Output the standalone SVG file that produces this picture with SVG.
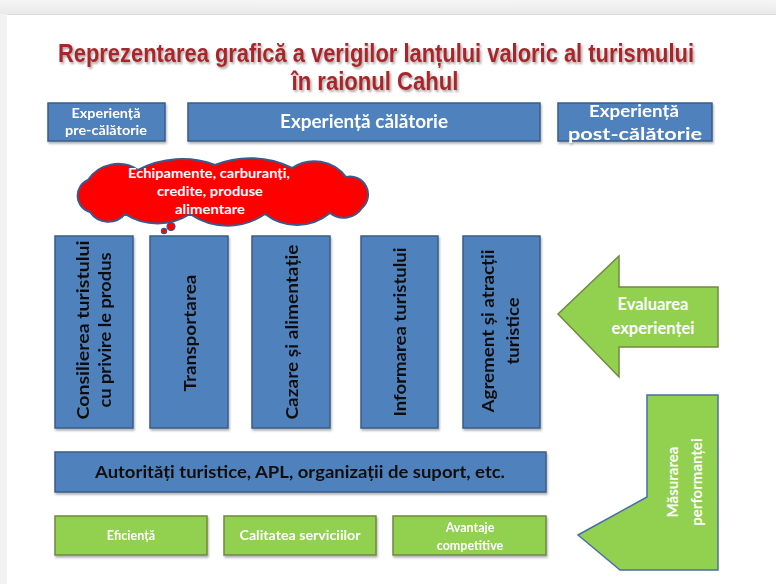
<svg xmlns="http://www.w3.org/2000/svg" width="776" height="584" viewBox="0 0 776 584">
<defs>
<linearGradient id="topg" x1="0" y1="0" x2="0" y2="1">
<stop offset="0" stop-color="#f6f6f6"/>
<stop offset="1" stop-color="#e9e9e9"/>
</linearGradient>
<filter id="sh" x="-10%" y="-10%" width="130%" height="130%">
<feDropShadow dx="1" dy="2" stdDeviation="1.2" flood-color="#000" flood-opacity="0.3"/>
</filter>
<filter id="tsh" filterUnits="userSpaceOnUse" x="0" y="20" width="776" height="85">
<feDropShadow dx="1.5" dy="2" stdDeviation="1" flood-color="#000" flood-opacity="0.35"/>
</filter>
<style>
.blue{fill:#4f81bd;stroke:#385d8a;stroke-width:1.5}
.green{fill:#92d050;stroke:#71893f;stroke-width:1.5}
.t{font-family:"Lato","Liberation Sans",sans-serif;font-weight:bold}
.w{fill:#ffffff}
.k{fill:#111111}
.title{font-family:"Liberation Sans",sans-serif;font-weight:bold;fill:#a8282c;font-size:26px}
</style>
</defs>
<rect x="0" y="0" width="776" height="584" fill="#f2f2f2"/>
<rect x="0" y="0" width="776" height="14" fill="url(#topg)"/>
<rect x="7" y="14" width="769" height="570" fill="#ffffff"/>
<line x1="7" y1="14.5" x2="776" y2="14.5" stroke="#dcdcdc" stroke-width="1"/>

<g id="title" filter="url(#tsh)">
<text class="title" x="376" y="62" text-anchor="middle" textLength="636" lengthAdjust="spacingAndGlyphs">Reprezentarea grafică a verigilor lanțului valoric al turismului</text>
<text class="title" x="375" y="90" text-anchor="middle" textLength="167" lengthAdjust="spacingAndGlyphs">în raionul Cahul</text>
</g>

<g id="pre" filter="url(#sh)">
<rect class="blue" x="48" y="103" width="117" height="38"/>
<text class="t w" x="106" y="118" text-anchor="middle" font-size="13" textLength="69" lengthAdjust="spacingAndGlyphs">Experiență</text>
<text class="t w" x="106" y="135" text-anchor="middle" font-size="13" textLength="82" lengthAdjust="spacingAndGlyphs">pre-călătorie</text>
</g>
<g id="calatorie" filter="url(#sh)">
<rect class="blue" x="188" y="103" width="352" height="38"/>
<text class="t w" x="364" y="128" text-anchor="middle" font-size="18" textLength="168" lengthAdjust="spacingAndGlyphs">Experiență călătorie</text>
</g>
<g id="post" filter="url(#sh)">
<rect class="blue" x="558" y="103" width="154" height="38"/>
<text class="t w" x="634" y="117" text-anchor="middle" font-size="17" textLength="90" lengthAdjust="spacingAndGlyphs">Experiență</text>
<text class="t w" x="635" y="140" text-anchor="middle" font-size="17" textLength="134" lengthAdjust="spacingAndGlyphs">post-călătorie</text>
</g>

<g id="cloud">
<path d="M90,212 A17,17 0 0 1 88,180 A36,36 0 0 1 138,170 A95,95 0 0 1 215,165 A95,95 0 0 1 292,168 A40,40 0 0 1 346,177 A18,18 0 0 1 362,208 A22,22 0 0 1 330,213 A52,52 0 0 1 265,214 A66,66 0 0 1 190,214 A60,60 0 0 1 125,214 A22,22 0 0 1 90,212 Z" fill="#ff0000" stroke="#3a5a8a" stroke-width="2"/>
<circle cx="171" cy="226.5" r="4" fill="#ff0000" stroke="#3a5a8a" stroke-width="1.2"/>
<circle cx="164" cy="231" r="2.6" fill="#ff0000" stroke="#3a5a8a" stroke-width="1.2"/>
<text class="t w" x="209" y="178" text-anchor="middle" font-size="12.5" textLength="162" lengthAdjust="spacingAndGlyphs">Echipamente, carburanți,</text>
<text class="t w" x="210" y="196" text-anchor="middle" font-size="12.5" textLength="106" lengthAdjust="spacingAndGlyphs">credite, produse</text>
<text class="t w" x="210" y="214" text-anchor="middle" font-size="12.5" textLength="70" lengthAdjust="spacingAndGlyphs">alimentare</text>
</g>

<g id="consilierea" filter="url(#sh)">
<rect class="blue" x="55" y="236" width="78" height="192"/>
<text class="t k" transform="translate(89,330) rotate(-90)" text-anchor="middle" font-size="17" textLength="179" lengthAdjust="spacingAndGlyphs">Consilierea  turistului</text>
<text class="t k" transform="translate(111,330) rotate(-90)" text-anchor="middle" font-size="17" textLength="155" lengthAdjust="spacingAndGlyphs">cu privire le produs</text>
</g>
<g id="transportarea" filter="url(#sh)">
<rect class="blue" x="150" y="236" width="78" height="192"/>
<text class="t k" transform="translate(196,333) rotate(-90)" text-anchor="middle" font-size="17" textLength="117" lengthAdjust="spacingAndGlyphs">Transportarea</text>
</g>
<g id="cazare" filter="url(#sh)">
<rect class="blue" x="252" y="236" width="78" height="192"/>
<text class="t k" transform="translate(298,332) rotate(-90)" text-anchor="middle" font-size="17" textLength="175" lengthAdjust="spacingAndGlyphs">Cazare și alimentație</text>
</g>
<g id="informarea" filter="url(#sh)">
<rect class="blue" x="361" y="236" width="77" height="192"/>
<text class="t k" transform="translate(406,332) rotate(-90)" text-anchor="middle" font-size="17" textLength="169" lengthAdjust="spacingAndGlyphs">Informarea turistului</text>
</g>
<g id="agrement" filter="url(#sh)">
<rect class="blue" x="463" y="236" width="77" height="192"/>
<text class="t k" transform="translate(494,331) rotate(-90)" text-anchor="middle" font-size="17" textLength="163" lengthAdjust="spacingAndGlyphs">Agrement și atracții</text>
<text class="t k" transform="translate(519,331) rotate(-90)" text-anchor="middle" font-size="17" textLength="67" lengthAdjust="spacingAndGlyphs">turistice</text>
</g>

<g id="evaluarea">
<polygon points="558,314 619,256 619,287 718,287 718,347 619,347 619,377" fill="#92d050" stroke="#71893f" stroke-width="1.5"/>
<text class="t w" x="653" y="310" text-anchor="middle" font-size="16.5">Evaluarea</text>
<text class="t w" x="653" y="334" text-anchor="middle" font-size="16.5">experienței</text>
</g>

<g id="masurarea">
<polygon points="647,395 718,395 718,570 620,570 578,535 647,497" fill="#92d050" stroke="#4a6fa5" stroke-width="1.5"/>
<text class="t w" transform="translate(678,482) rotate(-90)" text-anchor="middle" font-size="15">Măsurarea</text>
<text class="t w" transform="translate(702,482) rotate(-90)" text-anchor="middle" font-size="15">performanței</text>
</g>

<g id="autoritati" filter="url(#sh)">
<rect class="blue" x="55" y="452" width="491" height="40"/>
<text class="t k" x="300" y="478" text-anchor="middle" font-size="17.5" textLength="410" lengthAdjust="spacingAndGlyphs">Autorități turistice, APL, organizații de suport, etc.</text>
</g>

<g id="eficienta" filter="url(#sh)">
<rect class="green" x="55" y="516" width="152" height="39"/>
<text class="t w" x="131" y="540" text-anchor="middle" font-size="12.5">Eficiență</text>
</g>
<g id="calitatea" filter="url(#sh)">
<rect class="green" x="224" y="516" width="152" height="39"/>
<text class="t w" x="300" y="540" text-anchor="middle" font-size="12.5" textLength="121" lengthAdjust="spacingAndGlyphs">Calitatea serviciilor</text>
</g>
<g id="avantaje" filter="url(#sh)">
<rect class="green" x="393" y="516" width="153" height="39"/>
<text class="t w" x="470" y="532" text-anchor="middle" font-size="12.5">Avantaje</text>
<text class="t w" x="470" y="550" text-anchor="middle" font-size="12.5">competitive</text>
</g>

<g id="connectors"/>
</svg>
